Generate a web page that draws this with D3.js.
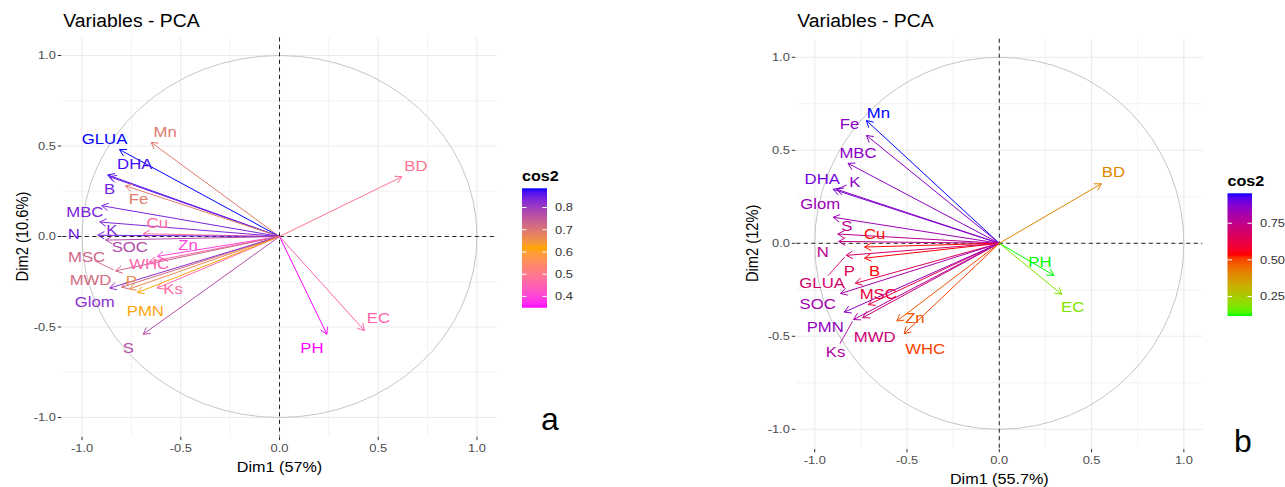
<!DOCTYPE html>
<html>
<head>
<meta charset="utf-8">
<script src="https://cdn.jsdelivr.net/npm/d3@7"></script>
<style>
  html, body { margin: 0; padding: 0; background: #fff; }
  svg { display: block; }
  text { font-family: "Liberation Sans", Arial, sans-serif; }
</style>
</head>
<body>
<svg id="chart" width="1285" height="487"></svg>
<script>
// ---------------- DATA ----------------
const titleText = "Variables - PCA";
const axisTicks = [-1.0, -0.5, 0.0, 0.5, 1.0];
const axisTickLabels = ["-1.0", "-0.5", "0.0", "0.5", "1.0"];
const gridMinor = [-0.75, -0.25, 0.25, 0.75];

// Panel a
const varsA = ["Mn","GLUA","DHA","B","Fe","MBC","Cu","K","N","SOC","Zn","WHC","MSC","MWD","P","Glom","Ks","PMN","S","BD","PH","EC"];
const dim1A = [-0.65,-0.81,-0.87,-0.86,-0.78,-0.90,-0.69,-0.91,-0.92,-0.88,-0.62,-0.66,-0.83,-0.80,-0.76,-0.86,-0.62,-0.72,-0.69,0.62,0.24,0.43];
const dim2A = [0.52,0.48,0.34,0.33,0.28,0.17,0.015,0.08,0.007,-0.02,-0.11,-0.14,-0.19,-0.28,-0.29,-0.285,-0.285,-0.31,-0.54,0.33,-0.54,-0.52];
const xTitleA = "Dim1 (57%)";
const yTitleA = "Dim2 (10.6%)";
const legendTicksA = [0.4, 0.5, 0.6, 0.7, 0.8];
const legendLabelsA = ["0.4", "0.5", "0.6", "0.7", "0.8"];
const gradientA = ["magenta", "orange", "blue"];

// Panel b
const varsB = ["Mn","Fe","MBC","DHA","K","Glom","S","N","Cu","B","GLUA","P","SOC","MSC","PMN","MWD","Ks","Zn","WHC","BD","PH","EC"];
const dim1B = [-0.72,-0.72,-0.82,-0.90,-0.88,-0.90,-0.875,-0.87,-0.73,-0.73,-0.83,-0.78,-0.86,-0.71,-0.84,-0.74,-0.79,-0.555,-0.516,0.553,0.296,0.338];
const dim2B = [0.66,0.58,0.43,0.29,0.29,0.14,0.05,0.01,-0.02,-0.08,-0.065,-0.215,-0.27,-0.33,-0.37,-0.40,-0.41,-0.418,-0.486,0.32,-0.172,-0.274];
const xTitleB = "Dim1 (55.7%)";
const yTitleB = "Dim2 (12%)";
const legendTicksB = [0.25, 0.50, 0.75];
const legendLabelsB = ["0.25", "0.50", "0.75"];
const gradientB = ["#00FF00", "red", "blue"];

// ---------------- LAYOUT (label placement, repel-like offsets in px) ----------------
const labelOffsetsA = {
  Mn:[14,-11], GLUA:[-15,-11], DHA:[27,-11], B:[0,12], Fe:[13,13], MBC:[-17,6], Cu:[14,-11],
  K:[12,8], N:[-24,-1], SOC:[24,7], Zn:[31,-12], WHC:[0,2], MSC:[-29,-14], MWD:[-31,-7],
  P:[2,-8], Glom:[-15,14], Ks:[16,1], PMN:[8,18], S:[-15,14], BD:[14,-11], PH:[-15,14], EC:[14,-13]
};
const leadersA = ["MSC"];
const labelOffsetsB = {
  Mn:[12,-8], Fe:[-17,-12], MBC:[10,-11], DHA:[-11,-11], K:[18,-8], Glom:[-13,-13], S:[9,-8],
  N:[-16,10], Cu:[10,-13], B:[10,13], GLUA:[-24,27], P:[-6,-13], SOC:[-23,10], MSC:[10,-11],
  PMN:[-19,15], MWD:[12,19], Ks:[-18,32], Zn:[18,-3], WHC:[21,15], BD:[12,-12], PH:[-14,-14], EC:[11,13]
};
const leadersB = ["K", "GLUA", "Ks"];

const SX = 1.1; // horizontal stretch of the reference image

const svg = d3.select("#chart");

function stretchedText(g, x, y, str, opts) {
  const t = g.append("g").attr("transform", `translate(${x},${y}) scale(${SX},1)` + (opts.rotate ? ` rotate(${opts.rotate})` : ""));
  return t.append("text")
    .attr("x", 0).attr("y", 0)
    .attr("text-anchor", opts.anchor || "middle")
    .attr("dominant-baseline", "central")
    .attr("font-size", opts.size)
    .attr("fill", opts.fill || "#000")
    .attr("font-weight", opts.weight || "normal")
    .text(str);
}

function drawPanel(cfg) {
  const g = svg.append("g");
  const x = d3.scaleLinear().domain([-1.1, 1.1]).range(cfg.xRange);
  const y = d3.scaleLinear().domain([-1.1, 1.1]).range(cfg.yRange);
  const [L, R] = cfg.xRange, [B, T] = cfg.yRange;

  // grid
  g.selectAll(".gminx").data(gridMinor).join("line")
    .attr("x1", d => x(d)).attr("x2", d => x(d)).attr("y1", T).attr("y2", B)
    .attr("stroke", "#EDEDED").attr("stroke-width", 0.7);
  g.selectAll(".gminy").data(gridMinor).join("line")
    .attr("y1", d => y(d)).attr("y2", d => y(d)).attr("x1", L).attr("x2", R)
    .attr("stroke", "#EDEDED").attr("stroke-width", 0.7);
  g.selectAll(".gmajx").data(axisTicks).join("line")
    .attr("x1", d => x(d)).attr("x2", d => x(d)).attr("y1", T).attr("y2", B)
    .attr("stroke", "#EBEBEB").attr("stroke-width", 1.1);
  g.selectAll(".gmajy").data(axisTicks).join("line")
    .attr("y1", d => y(d)).attr("y2", d => y(d)).attr("x1", L).attr("x2", R)
    .attr("stroke", "#EBEBEB").attr("stroke-width", 1.1);

  // axis ticks + labels
  axisTicks.forEach((v, i) => {
    g.append("line").attr("x1", x(v)).attr("x2", x(v)).attr("y1", B + 1).attr("y2", B + 4.5)
      .attr("stroke", "#333").attr("stroke-width", 1);
    stretchedText(g, x(v), B + 12.5, axisTickLabels[i], {size: 11.7, fill: "#4D4D4D"});
    g.append("line").attr("y1", y(v)).attr("y2", y(v)).attr("x1", L - 4.5).attr("x2", L - 1)
      .attr("stroke", "#333").attr("stroke-width", 1);
    stretchedText(g, L - 6.5, y(v), axisTickLabels[i], {size: 11.7, fill: "#4D4D4D", anchor: "end"});
  });

  // axis titles & plot title
  stretchedText(g, x(0), B + 31, cfg.xTitle, {size: 14.7});
  stretchedText(g, cfg.yTitleX, y(0), cfg.yTitle, {size: 14.7, rotate: -90});
  stretchedText(g, L + 1, 21, titleText, {size: 17.6, anchor: "start"});

  // correlation circle
  g.append("ellipse").attr("cx", x(0)).attr("cy", y(0))
    .attr("rx", x(1) - x(0)).attr("ry", y(0) - y(1))
    .attr("fill", "none").attr("stroke", "#BEBEBE").attr("stroke-width", 0.9);

  // dashed axes
  g.append("line").attr("x1", L).attr("x2", R).attr("y1", y(0)).attr("y2", y(0))
    .attr("stroke", "#222").attr("stroke-width", 1).attr("stroke-dasharray", "4,3.5");
  g.append("line").attr("x1", x(0)).attr("x2", x(0)).attr("y1", T).attr("y2", B)
    .attr("stroke", "#222").attr("stroke-width", 1).attr("stroke-dasharray", "4,3.5");

  // colour scale from cos2
  const cos2 = cfg.vars.map((v, i) => cfg.d1[i] * cfg.d1[i] + cfg.d2[i] * cfg.d2[i]);
  const [cmin, cmax] = d3.extent(cos2);
  const color = d3.scaleLinear().domain([cmin, (cmin + cmax) / 2, cmax])
    .range(cfg.gradient).interpolate(d3.interpolateLab);

  // arrows
  const ah = 7.5, ang = Math.PI / 6;
  cfg.vars.forEach((v, i) => {
    const x0 = x(0), y0 = y(0), x1 = x(cfg.d1[i]), y1 = y(cfg.d2[i]);
    const c = color(cos2[i]);
    g.append("line").attr("x1", x0).attr("y1", y0).attr("x2", x1).attr("y2", y1)
      .attr("stroke", c).attr("stroke-width", 1);
    const th = Math.atan2(y1 - y0, x1 - x0);
    const p = d3.path();
    p.moveTo(x1 - ah * Math.cos(th - ang), y1 - ah * Math.sin(th - ang));
    p.lineTo(x1, y1);
    p.lineTo(x1 - ah * Math.cos(th + ang), y1 - ah * Math.sin(th + ang));
    g.append("path").attr("d", p.toString()).attr("fill", "none")
      .attr("stroke", c).attr("stroke-width", 1);
  });

  // labels
  cfg.vars.forEach((v, i) => {
    const x1 = x(cfg.d1[i]), y1 = y(cfg.d2[i]);
    const off = cfg.offsets[v] || [0, 0];
    const lx = x1 + off[0], ly = y1 + off[1];
    const c = color(cos2[i]);
    if (cfg.leaders.includes(v)) {
      const dx = x1 - lx, dy = y1 - ly, dist = Math.hypot(dx, dy);
      const r = 9;
      g.append("line").attr("x1", lx + dx / dist * r).attr("y1", ly + dy / dist * r)
        .attr("x2", x1 - dx / dist * 2).attr("y2", y1 - dy / dist * 2)
        .attr("stroke", c).attr("stroke-width", 0.9);
    }
    stretchedText(g, lx, ly, v, {size: 15.2, fill: c});
  });

  // legend
  const lg = cfg.legend;
  const ly = d3.scaleLinear().domain([cmin, cmax]).range([lg.bottom, lg.top]);
  const gid = "grad" + cfg.id;
  const grad = svg.append("defs").append("linearGradient").attr("id", gid)
    .attr("x1", 0).attr("y1", 1).attr("x2", 0).attr("y2", 0);
  d3.range(0, 41).forEach(k => {
    const t = k / 40;
    grad.append("stop").attr("offset", t).attr("stop-color", color(cmin + t * (cmax - cmin)));
  });
  g.append("rect").attr("x", lg.x).attr("y", lg.top).attr("width", lg.w)
    .attr("height", lg.bottom - lg.top).attr("fill", `url(#${gid})`);
  cfg.legendTicks.forEach((t, k) => {
    g.append("line").attr("x1", lg.x).attr("x2", lg.x + 4.5).attr("y1", ly(t)).attr("y2", ly(t))
      .attr("stroke", "#fff").attr("stroke-width", 1);
    g.append("line").attr("x1", lg.x + lg.w - 4.5).attr("x2", lg.x + lg.w).attr("y1", ly(t)).attr("y2", ly(t))
      .attr("stroke", "#fff").attr("stroke-width", 1);
    stretchedText(g, lg.x + lg.w + 8, ly(t), cfg.legendLabels[k], {size: 11.7, fill: "#333", anchor: "start"});
  });
  stretchedText(g, lg.x, lg.top - 13, "cos2", {size: 14.7, anchor: "start", weight: "bold"});

  // panel letter
  g.append("text").attr("x", cfg.letter[1]).attr("y", cfg.letter[2])
    .attr("text-anchor", "middle").attr("font-size", 32)
    .attr("font-family", "'Liberation Serif', 'Times New Roman', serif")
    .attr("fill", "#000").text(cfg.letter[0]);
}

drawPanel({
  id: "A", vars: varsA, d1: dim1A, d2: dim2A,
  xRange: [62.3, 496.7], yRange: [435.6, 37.4],
  xTitle: xTitleA, yTitle: yTitleA, yTitleX: 22,
  gradient: gradientA, legendTicks: legendTicksA, legendLabels: legendLabelsA,
  legend: {x: 522, w: 25, top: 188.3, bottom: 307.7},
  offsets: labelOffsetsA, leaders: leadersA,
  letter: ["a", 550, 430]
});

drawPanel({
  id: "B", vars: varsB, d1: dim1B, d2: dim2B,
  xRange: [796.3, 1202.3], yRange: [447.9, 38.7],
  xTitle: xTitleB, yTitle: yTitleB, yTitleX: 752,
  gradient: gradientB, legendTicks: legendTicksB, legendLabels: legendLabelsB,
  legend: {x: 1227.5, w: 24.5, top: 193.3, bottom: 316},
  offsets: labelOffsetsB, leaders: leadersB,
  letter: ["b", 1243, 452]
});
</script>
</body>
</html>
